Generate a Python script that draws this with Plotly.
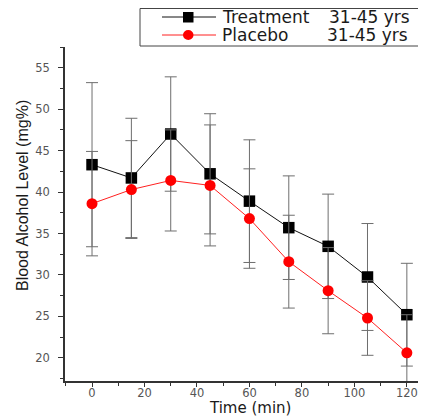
import plotly.graph_objects as go

time_min = [0, 15, 30, 45, 60, 75, 90, 105, 120]
treatment = [43.3, 41.7, 47.0, 42.2, 38.9, 35.7, 33.45, 29.75, 25.2]
treatment_err = [9.9, 7.2, 6.9, 7.25, 7.4, 6.25, 6.3, 6.45, 6.2]
placebo = [38.6, 40.3, 41.4, 40.8, 36.8, 31.6, 28.1, 24.8, 20.6]
placebo_err = [6.3, 5.9, 6.1, 7.3, 6.0, 5.6, 5.2, 4.5, 4.6]
series_names = ["Treatment", "Placebo"]
group_label = "31-45 yrs"
x_title = "Time (min)"
y_title = "Blood Alcohol Level (mg%)"
x_ticks = [0, 20, 40, 60, 80, 100, 120]
y_ticks = [20, 25, 30, 35, 40, 45, 50, 55]

# the page body has an 8px margin, so the figure is drawn 8px smaller
O = 8
W, H = 426 - O, 416 - O
ML, MR, MT, MB = 65 - O, 0, 47 - O, 35
PW, PH = W - ML - MR, H - MT - MB


def px(x):  # window pixel -> paper x
    return (x - O - ML) / PW


def py(y):  # window pixel -> paper y
    return (H - MB - (y - O)) / PH


WIDE = "DejaVu Sans, Verdana, sans-serif"
ARIAL = "Liberation Sans, Arial, sans-serif"

fig = go.Figure()
fig.add_trace(go.Scatter(
    x=time_min, y=treatment, name=series_names[0], mode="lines+markers",
    line=dict(color="#111111", width=1),
    marker=dict(symbol="square", size=11.5, color="black"),
    error_y=dict(type="data", array=treatment_err, color="#6e6e6e", thickness=1, width=6),
    showlegend=False,
))
fig.add_trace(go.Scatter(
    x=time_min, y=placebo, name=series_names[1], mode="lines+markers",
    line=dict(color="#ff2020", width=1),
    marker=dict(symbol="circle", size=11, color="#ff0000"),
    error_y=dict(type="data", array=placebo_err, color="#6e6e6e", thickness=1, width=6),
    showlegend=False,
))

shapes = [
    dict(type="rect", xref="paper", yref="paper", x0=px(140), x1=px(440), y0=py(8.5), y1=py(46),
         line=dict(color="#444444", width=1), fillcolor="white", layer="above"),
    dict(type="line", xref="paper", yref="paper", x0=px(162), x1=px(216), y0=py(17), y1=py(17),
         line=dict(color="#111111", width=1), layer="above"),
    dict(type="line", xref="paper", yref="paper", x0=px(162), x1=px(216), y0=py(35), y1=py(35),
         line=dict(color="#ff2020", width=1), layer="above"),
    dict(type="rect", xref="paper", yref="paper", x0=px(183), x1=px(193.5), y0=py(12), y1=py(22.5),
         line=dict(color="black", width=0), fillcolor="black", layer="above"),
    dict(type="circle", xref="paper", yref="paper", x0=px(183), x1=px(193.5), y0=py(30), y1=py(40),
         line=dict(color="#ff0000", width=0), fillcolor="#ff0000", layer="above"),
]
leg_font = dict(family=WIDE, size=17, color="#1a1a1a")


def ann(text, x, y, font, xanchor="left", angle=0):
    return dict(text=text, x=px(x), y=py(y), xref="paper", yref="paper", xanchor=xanchor,
                yanchor="middle", showarrow=False, font=font, textangle=angle)


annotations = [
    ann(series_names[0], 220, 17, leg_font),
    ann(group_label, 327, 17, leg_font),
    ann(series_names[1], 220, 35, leg_font),
    ann(group_label, 325, 35, leg_font),
    ann(x_title, 250, 408, dict(family=WIDE, size=15, color="#1a1a1a"), xanchor="center"),
    ann(y_title, 22, 196, dict(family=ARIAL, size=16, color="#1a1a1a"), xanchor="center", angle=-90),
]

tick_font = dict(family=WIDE, size=11.5, color="#555555")
fig.update_layout(
    width=W, height=H,
    margin=dict(l=ML, r=MR, t=MT, b=MB, autoexpand=False),
    paper_bgcolor="white", plot_bgcolor="white",
    font=dict(family=ARIAL, color="#222222"),
    showlegend=False,
    shapes=shapes,
    annotations=annotations,
    xaxis=dict(
        range=[-10.3, 127.3], tickvals=x_ticks, automargin=False,
        showgrid=False, zeroline=False, showline=True, linecolor="#333333", linewidth=1.5,
        ticks="outside", ticklen=4, tickcolor="#333333", tickfont=tick_font, ticklabelstandoff=-4,
        minor=dict(ticks="outside", dtick=10, tick0=0, ticklen=3, tickcolor="#333333"),
    ),
    yaxis=dict(
        range=[17.2, 57.5], tickvals=y_ticks, automargin=False,
        showgrid=False, zeroline=False, showline=True, linecolor="#333333", linewidth=1.5,
        ticks="outside", ticklen=5, tickcolor="#333333", tickfont=tick_font, ticklabelstandoff=6,
        minor=dict(ticks="outside", dtick=2.5, tick0=0, ticklen=3, tickcolor="#333333"),
    ),
)

fig.write_html("out.html")
